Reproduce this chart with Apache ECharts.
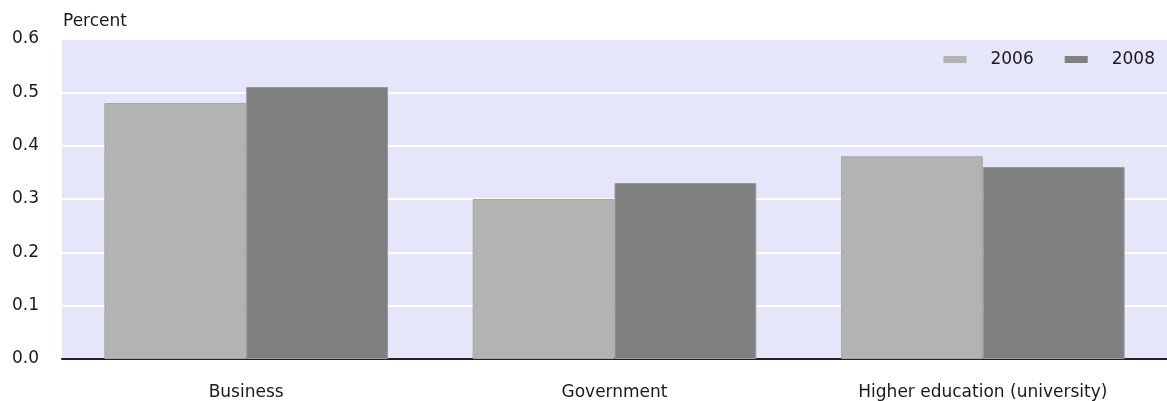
<!DOCTYPE html>
<html>
<head>
<meta charset="utf-8">
<script src="https://cdn.jsdelivr.net/npm/echarts@6/dist/echarts.min.js"></script>
<style>
  html, body { margin: 0; padding: 0; background: #fff; }
  #chart { width: 1167px; height: 401px; }
</style>
</head>
<body>
<div id="chart"></div>
<script>
// data
const categories = ['Business', 'Government', 'Higher education (university)'];
const values2006 = [0.48, 0.30, 0.38];
const values2008 = [0.51, 0.33, 0.36];
const yTicks = [0, 0.1, 0.2, 0.3, 0.4, 0.5, 0.6];

const font = 'DejaVu Sans, Verdana, sans-serif';
const chart = echarts.init(document.getElementById('chart'));

const option = {
  animation: false,
  textStyle: { fontFamily: font },
  grid: {
    left: 62,
    right: 0,
    top: 39,
    bottom: 42,
    show: true,
    backgroundColor: '#e6e6fa',
    borderWidth: 0,
  },
  legend: {
    right: 7,
    top: 46,
    icon: 'rect',
    itemWidth: 23,
    itemHeight: 7,
    itemGap: 31,
    itemStyle: { borderWidth: 0 },
    textStyle: { fontSize: 17, color: '#1a1a1a', fontFamily: font, padding: [0, 0, 0, 19] },
    data: ['2006', '2008'],
  },
  xAxis: {
    type: 'category',
    data: categories,
    axisTick: { show: false },
    axisLine: { lineStyle: { color: '#222', width: 2 } },
    axisLabel: { color: '#1a1a1a', fontSize: 17, margin: 25, fontFamily: font },
  },
  yAxis: {
    type: 'value',
    name: 'Percent',
    nameLocation: 'end',
    nameGap: 9,
    nameTextStyle: { color: '#1a1a1a', fontSize: 17, align: 'left', padding: [0, 0, 0, 1], fontFamily: font },
    min: yTicks[0],
    max: yTicks[yTicks.length - 1],
    interval: 0.1,
    axisLine: { show: false },
    axisTick: { show: false },
    axisLabel: {
      color: '#1a1a1a',
      fontSize: 17,
      margin: 23,
      fontFamily: font,
      formatter: (v) => v.toFixed(1),
    },
    splitLine: { show: true, lineStyle: { color: '#ffffff', width: 2 } },
  },
  series: [
    {
      name: '2006',
      type: 'bar',
      data: values2006,
      barGap: '0%',
      barCategoryGap: '23%',
      itemStyle: { color: '#b3b3b3', borderColor: '#a6a6a6', borderWidth: 1 },
    },
    {
      name: '2008',
      type: 'bar',
      data: values2008,
      itemStyle: { color: '#808080', borderColor: '#999999', borderWidth: 1 },
    },
  ],
};
chart.setOption(option);
</script>
</body>
</html>
